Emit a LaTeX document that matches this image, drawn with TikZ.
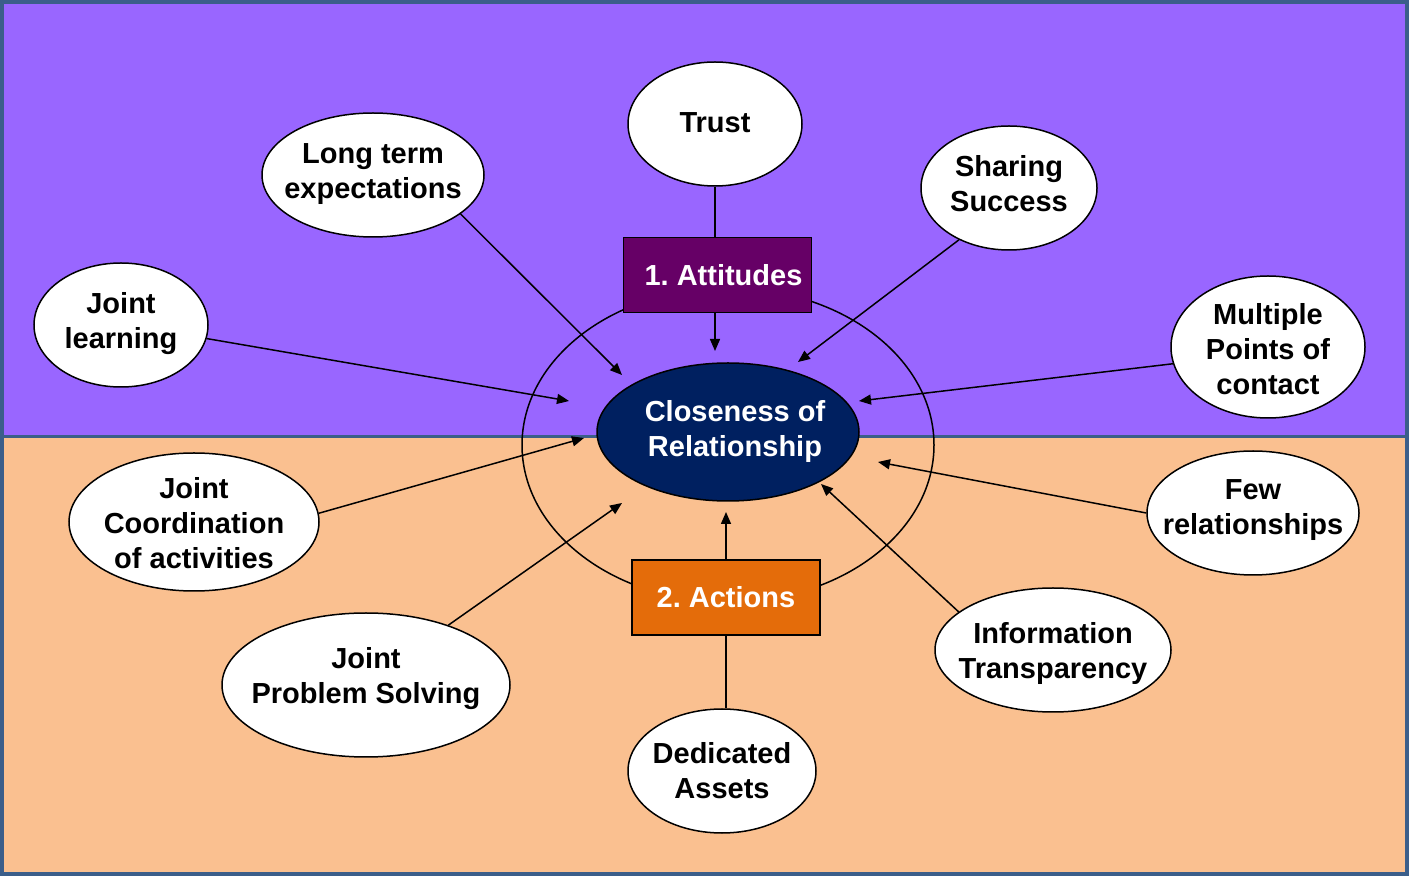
\documentclass[tikz,border=0pt]{standalone}
\usepackage{fontspec}
\setmainfont{Liberation Sans}
\usetikzlibrary{shapes.geometric,arrows.meta}
\frenchspacing

\definecolor{topfill}{HTML}{9966FF}
\definecolor{lowfill}{HTML}{FAC090}
\definecolor{frameblue}{HTML}{3B5E8A}
\definecolor{navyfill}{HTML}{002060}
\definecolor{plumfill}{HTML}{660066}
\definecolor{rustfill}{HTML}{E46C0A}

\tikzset{
  bubbletext/.style={align=center, inner sep=0pt, font=\bfseries\fontsize{14.5}{17.5}\selectfont},
  bubble/.style 2 args={ellipse, draw, fill=white, line width=0.75, inner sep=0pt,
    label={[bubbletext, yshift=#2]center:#1}},
  stagebox/.style={rectangle, draw, line width=0.75, text=white, inner sep=0pt,
    minimum width=94pt, minimum height=37.5pt, font=\bfseries\fontsize{14.5}{17.5}\selectfont},
  feed/.style={line width=0.75, -{Triangle[length=6pt,width=5pt]}}
}

\begin{document}
\begin{tikzpicture}[x=0.5pt,y=0.5pt,yscale=-1,xscale=1]

        \useasboundingbox (0,0) rectangle (1409,876);
        % Background
        \fill[topfill] (2,2) rectangle (1407,437);
        \fill[lowfill] (2,437) rectangle (1407,874);
        \draw[frameblue, line width=1.5] (2,437) -- (1407,437);
        \draw[frameblue, line width=2] (2,2) rectangle (1407,874);

        %Shape: Ellipse (outer ring)
        \draw[line width=0.75] (728,445) ellipse [x radius=206, y radius=157];

        % Centre
        \node[ellipse, draw, line width=0.75, fill=navyfill, minimum width=131pt, minimum height=69pt,
          label={[bubbletext, text=white, xshift=3.5pt, yshift=0pt]center:{Closeness of\\Relationship}}] (close) at (728,432) {};

        % Stage boxes
        \node[stagebox, fill=plumfill] (attitudes) at (717.5,275) {\hspace*{6pt}1. Attitudes};
        \node[stagebox, fill=rustfill] (actions) at (726,597.5) {2. Actions};

        % Text Nodes (ellipses)
        \node[bubble={Trust}{0.5pt}, minimum width=87pt, minimum height=62pt] (trust) at (715,124) {};
        \node[bubble={Long term\\expectations}{0.5pt}, minimum width=111pt, minimum height=62pt] (longterm) at (373,175) {};
        \node[bubble={Sharing\\Success}{2pt}, minimum width=88pt, minimum height=62pt] (sharing) at (1009,188) {};
        \node[bubble={Joint\\learning}{0.5pt}, minimum width=87pt, minimum height=62pt] (learning) at (121,325) {};
        \node[bubble={Multiple\\Points of\\contact}{-1pt}, minimum width=97pt, minimum height=71pt] (multiple) at (1268,347) {};
        \node[bubble={Joint\\Coordination\\of activities}{-0.5pt}, minimum width=125pt, minimum height=69pt] (coord) at (194,522) {};
        \node[bubble={Few\\relationships}{1.5pt}, minimum width=106pt, minimum height=62pt] (few) at (1253,513) {};
        \node[bubble={Joint\\Problem Solving}{3pt}, minimum width=144pt, minimum height=72pt] (problem) at (366,685) {};
        \node[bubble={Information\\Transparency}{-2pt}, minimum width=118pt, minimum height=62pt] (transp) at (1053,650) {};
        \node[bubble={Dedicated\\Assets}{0pt}, minimum width=94pt, minimum height=62pt] (assets) at (722,771) {};

        % Arrow ends
        \coordinate (e-att) at (715,351);
        \coordinate (e-act) at (726,512);
        \coordinate (e-long) at (622,375);
        \coordinate (e-share) at (798,362);
        \coordinate (e-learn) at (569,401);
        \coordinate (e-multi) at (859,401);
        \coordinate (e-coord) at (584,438);
        \coordinate (e-few) at (878,462);
        \coordinate (e-prob) at (622,503);
        \coordinate (e-info) at (821,484);

        %Straight Lines
        \draw[line width=0.75] (trust.south) -- (trust.south |- attitudes.north);
        \draw[line width=0.75] (assets.north -| actions.south) -- (actions.south);
        \draw[feed] (attitudes.south -| e-att) -- (e-att);
        \draw[feed] (actions.north) -- (e-act);
        \draw[feed] (longterm.-24) -- (e-long);
        \draw[feed] (sharing.-134) -- (e-share);
        \draw[feed] (learning.-9) -- (e-learn);
        \draw[feed] (multiple.190) -- (e-multi);
        \draw[feed] (coord.4) -- (e-coord);
        \draw[feed] (few.west) -- (e-few);
        \draw[feed] (problem.36) -- (e-prob);
        \draw[feed] (transp.158) -- (e-info);

\end{tikzpicture}
\end{document}
